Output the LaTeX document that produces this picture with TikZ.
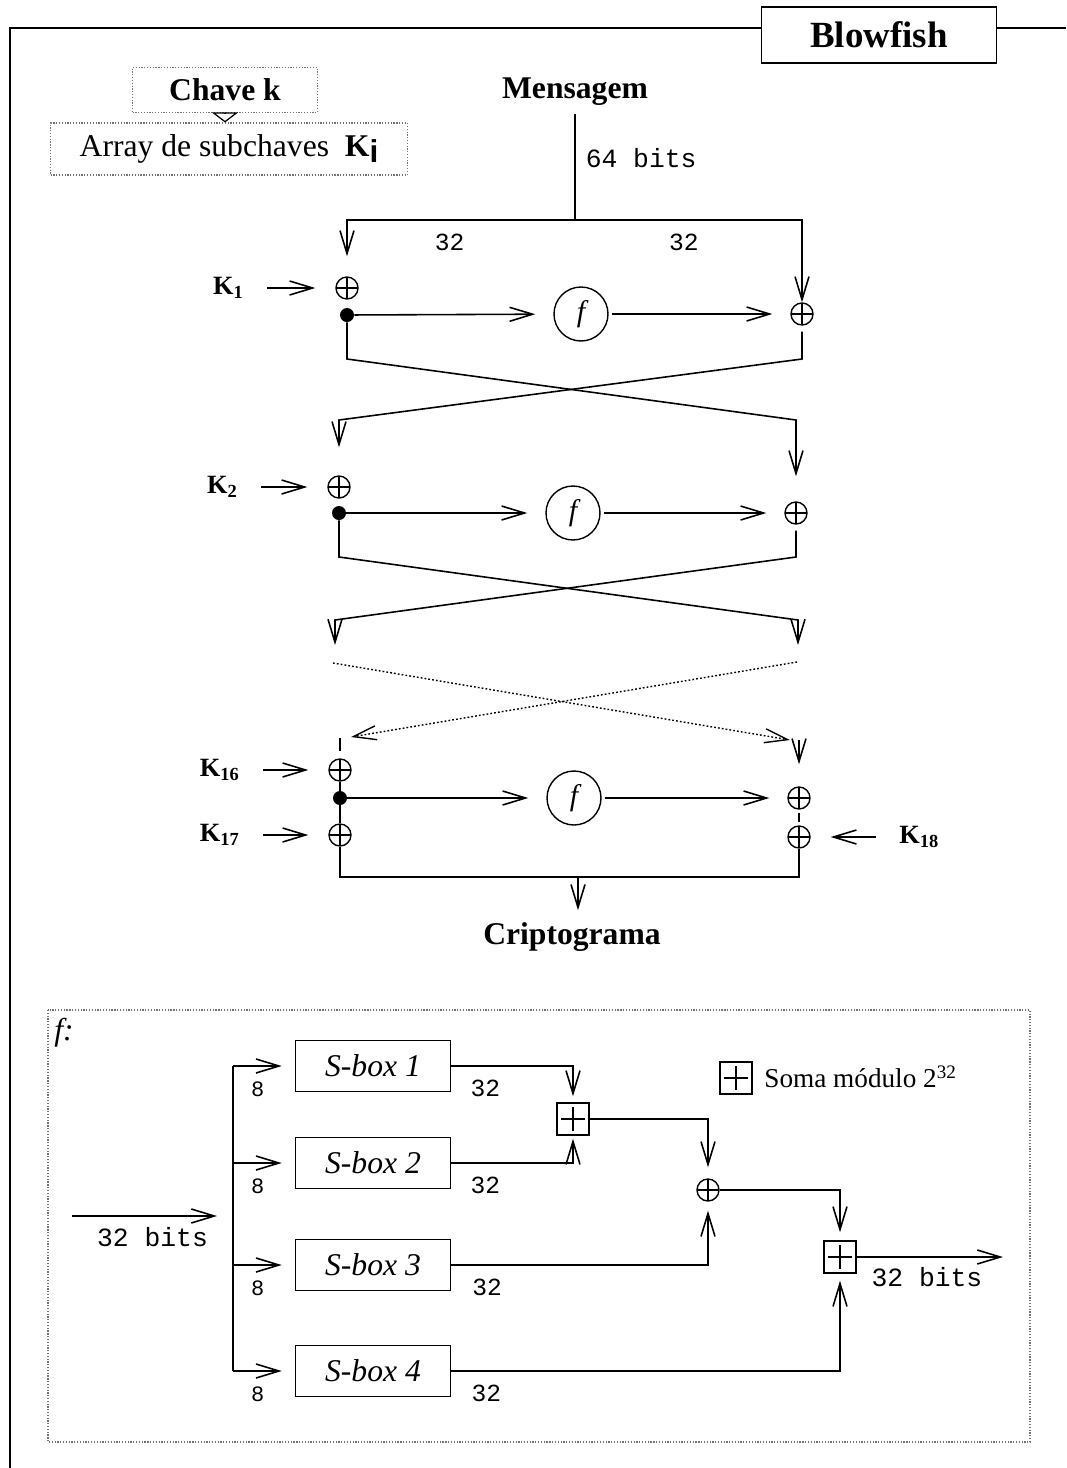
\documentclass[tikz,border=0pt]{standalone}
\usepackage{fontspec}
\setmainfont{Liberation Serif}
\setsansfont{Liberation Sans}
\setmonofont{Liberation Mono}
\usepackage{tikz}
\usetikzlibrary{positioning, shapes, arrows.meta, calc}

\begin{document}
\begin{tikzpicture}[x=0.02cm, y=-0.02cm,
    heading/.style={font=\fontsize{18}{21}\selectfont\bfseries, inner sep=0pt},
    keylbl/.style={font=\fontsize{15}{18}\selectfont\bfseries, inner sep=0pt},
    bits/.style={font=\fontsize{14}{16}\selectfont\ttfamily, inner sep=0pt},
    bigbits/.style={font=\fontsize{15}{17}\selectfont\ttfamily, inner sep=0pt},
    smallbits/.style={font=\fontsize{12.5}{14}\selectfont\ttfamily, inner sep=0pt},
    xorop/.style={circle, draw, minimum size=0.44cm, inner sep=0pt, line width=0.8pt,
        path picture={\draw[line width=0.8pt] (path picture bounding box.north) -- (path picture bounding box.south)
            (path picture bounding box.west) -- (path picture bounding box.east);}},
    addop/.style={rectangle, draw, minimum size=0.64cm, inner sep=0pt, line width=0.8pt,
        path picture={\draw[line width=0.9pt] ([yshift=-0.08cm]path picture bounding box.north) -- ([yshift=0.08cm]path picture bounding box.south)
            ([xshift=0.08cm]path picture bounding box.west) -- ([xshift=-0.08cm]path picture bounding box.east);}},
    fnode/.style={circle, draw, minimum size=1.08cm, inner sep=0pt, line width=0.8pt, font=\fontsize{17}{19}\selectfont\itshape},
    junction/.style={circle, fill, minimum size=0.28cm, inner sep=0pt},
    sbox/.style={rectangle, draw, minimum width=3.1cm, minimum height=1.02cm, line width=0.9pt, font=\fontsize{18}{20}\selectfont\itshape},
    faint/.style={draw=black!55, line width=0.6pt, dash pattern=on 0.7pt off 0.9pt},
    wire/.style={line width=0.9pt},
    arrow/.style={wire, -{Straight Barb[length=0.46cm, width=0.28cm]}},
    keyarrow/.style={arrow, shorten <=0.46cm, shorten >=0.4cm},
    fwdarrow/.style={arrow, shorten >=0.36cm},
    dotline/.style={line width=0.8pt, dash pattern=on 1pt off 1.2pt}]

    \useasboundingbox (0,0) rectangle (1066,1468);

    % Title and outer frame
    \node[draw, line width=1pt, minimum width=4.7cm, minimum height=1.12cm, font=\fontsize{21}{24}\selectfont\bfseries] (blowfish) at (879,35) {Blowfish};
    \draw[wire] (10,1468) -- (10,28) -- (762,28);
    \draw[wire] (997,28) -- (1066,28);

    % Key and subkeys
    \node[heading, faint, minimum width=3.7cm, minimum height=0.9cm] (chave) at (225,90) {Chave k};
    \node[faint, minimum width=7.14cm, minimum height=1.04cm, font=\fontsize{18}{21}\selectfont] (subk) at (229,149) {Array de subchaves\ \ \textbf{K}\raisebox{-0.4ex}{\textsf{\textbf{i}}}};

    % Message
    \node[heading] (msg) at (575,92) {Mensagem};
    \coordinate (split) at (575,220);

    % Round 1
    \node[xorop] (xa1) at (347,288) {};
    \node[junction] (dot1) at (347,315) {};
    \node[fnode] (f1) at (581,314) {f};
    \node[xorop] (xb1) at (802,314) {};
    \node[keylbl, anchor=east] (k1) at (244,288) {K\textsubscript{1}};

    % Round 2
    \node[xorop] (xa2) at (339,487) {};
    \node[junction] (dot2) at (339,513) {};
    \node[fnode] (f2) at (573,513) {f};
    \node[xorop] (xb2) at (796,513) {};
    \node[keylbl, anchor=east] (k2) at (238,487) {K\textsubscript{2}};

    % Round 16 and output whitening
    \node[xorop] (xa16) at (340,770) {};
    \node[junction] (dot16) at (340,798) {};
    \node[fnode] (f16) at (574,798) {f};
    \node[xorop] (xb16) at (799,798) {};
    \node[keylbl, anchor=east] (k16) at (240,770) {K\textsubscript{16}};
    \node[xorop] (xa17) at (340,835) {};
    \node[keylbl, anchor=east] (k17) at (240,835) {K\textsubscript{17}};
    \node[xorop] (xb17) at (799,837) {};
    \node[keylbl, anchor=west] (k18) at (899,837) {K\textsubscript{18}};

    % Ciphertext
    \node[heading] (crypto) at (572,937) {Criptograma};

    % Free ends
    \coordinate (l3) at (335,645);
    \coordinate (r3) at (798,645);
    \coordinate (dl) at (333,663);
    \coordinate (dr) at (797,662);
    \coordinate (dlend) at (351,737);
    \coordinate (drend) at (790,740);
    \coordinate (tick16) at (340,738);
    \coordinate (in16) at (799,740);
    \coordinate (merge) at (578,877);

    % Arrows
    \draw[line width=0.7pt, -{Triangle[open, length=0.2cm, width=0.52cm]}] (chave.south) -- (chave.south |- subk.north);
    \draw[wire, shorten <=0.16cm] (msg) -- node[bigbits, right=0.2cm, pos=0.46] {64 bits} (split);
    \draw[arrow, shorten >=0.4cm] (split) -| node[bits, below=0.26cm, pos=0.275] {32} (xa1);
    \draw[arrow] (split) -| node[bits, below=0.26cm, pos=0.24] {32} (xb1);

    \draw[keyarrow] (k1) -- (xa1);
    \draw[fwdarrow] (dot1) -- (f1);
    \draw[fwdarrow, shorten <=0.06cm] (f1) -- (xb1);
    \draw[arrow, shorten >=0.5cm] (dot1) -- ++(0,44) -- ($(xb2)+(0,-93)$) -- (xb2);
    \draw[arrow, shorten <=0.12cm, shorten >=0.56cm] (xb1) -- ++(0,45) -- ($(xa2)+(0,-67)$) -- (xa2);

    \draw[keyarrow] (k2) -- (xa2);
    \draw[fwdarrow] (dot2) -- (f2);
    \draw[fwdarrow, shorten <=0.06cm] (f2) -- (xb2);
    \draw[arrow] (dot2) -- ++(0,44) -- ($(r3)+(0,-25)$) -- (r3);
    \draw[arrow, shorten <=0.12cm] (xb2) -- ++(0,44) -- ($(l3)+(0,-25)$) -- (l3);

    \draw[arrow, dotline] (dl) -- (drend);
    \draw[arrow, dotline] (dr) -- (dlend);

    \draw[wire, shorten >=0.14cm] (tick16) -- (xa16);
    \draw[arrow, shorten >=0.44cm] (in16) -- (xb16);
    \draw[keyarrow] (k16) -- (xa16);
    \draw[wire] (xa16) -- (dot16) -- (xa17);
    \draw[fwdarrow] (dot16) -- (f16);
    \draw[fwdarrow, shorten <=0.06cm] (f16) -- (xb16);
    \draw[wire, shorten <=0.06cm, shorten >=0.06cm] (xb16) -- (xb17);
    \draw[keyarrow] (k17) -- (xa17);
    \draw[keyarrow] (k18) -- (xb17);
    \draw[wire] (xa17) |- (merge) -| (xb17);
    \draw[arrow, shorten >=0.24cm] (merge) -- (merge |- crypto.north);

    % Function f
    \draw[faint] (48,1010) rectangle (1030,1442);
    \node[font=\fontsize{18}{20}\selectfont\itshape, inner sep=0pt] (flabel) at (64,1033) {f:};

    \node[sbox] (sb1) at (373,1066) {S-box 1};
    \node[sbox] (sb2) at (373,1163) {S-box 2};
    \node[sbox] (sb3) at (373,1265) {S-box 3};
    \node[sbox] (sb4) at (373,1371) {S-box 4};
    \node[addop] (add1) at (573,1119) {};
    \node[xorop] (fxor) at (708,1190) {};
    \node[addop] (add2) at (840,1257) {};

    % Legend
    \node[addop] (legendadd) at (736,1078) {};
    \node[font=\fontsize{15.5}{18}\selectfont, anchor=west, inner sep=0pt] (legendtxt) at (764,1077) {Soma módulo 2\textsuperscript{32}};

    \coordinate (fsrc) at (72,1216);
    \coordinate (fin) at (233,1216);
    \coordinate (fout) at (1003,1257);

    \draw[arrow, shorten >=0.32cm] (fsrc) -- node[bigbits, below=0.22cm] {32 bits} (fin);
    \draw[wire] (sb1.west -| fin) -- (sb4.west -| fin);
    \foreach \i in {1,...,4}
        \draw[arrow, shorten >=0.26cm] (sb\i.west -| fin) -- node[smallbits, below=0.3cm, pos=0.4] {8} (sb\i.west);

    \draw[arrow, shorten >=0.12cm] (sb1) -| node[bits, pos=0.14, below=0.26cm] {32} (add1);
    \draw[arrow, shorten >=0.06cm] (sb2) -| node[bits, pos=0.14, below=0.26cm] {32} (add1);
    \draw[arrow, shorten >=0.22cm] (add1) -| (fxor);
    \draw[arrow, shorten >=0.18cm] (sb3) -| node[bits, pos=0.07, below=0.26cm] {32} (fxor);
    \draw[arrow, shorten >=0.16cm] (fxor) -| (add2);
    \draw[arrow, shorten >=0.14cm] (sb4) -| node[bits, pos=0.045, below=0.26cm] {32} (add2);
    \draw[arrow] (add2) -- node[bigbits, below=0.2cm, pos=0.48] {32 bits} (fout);
\end{tikzpicture}
\end{document}
